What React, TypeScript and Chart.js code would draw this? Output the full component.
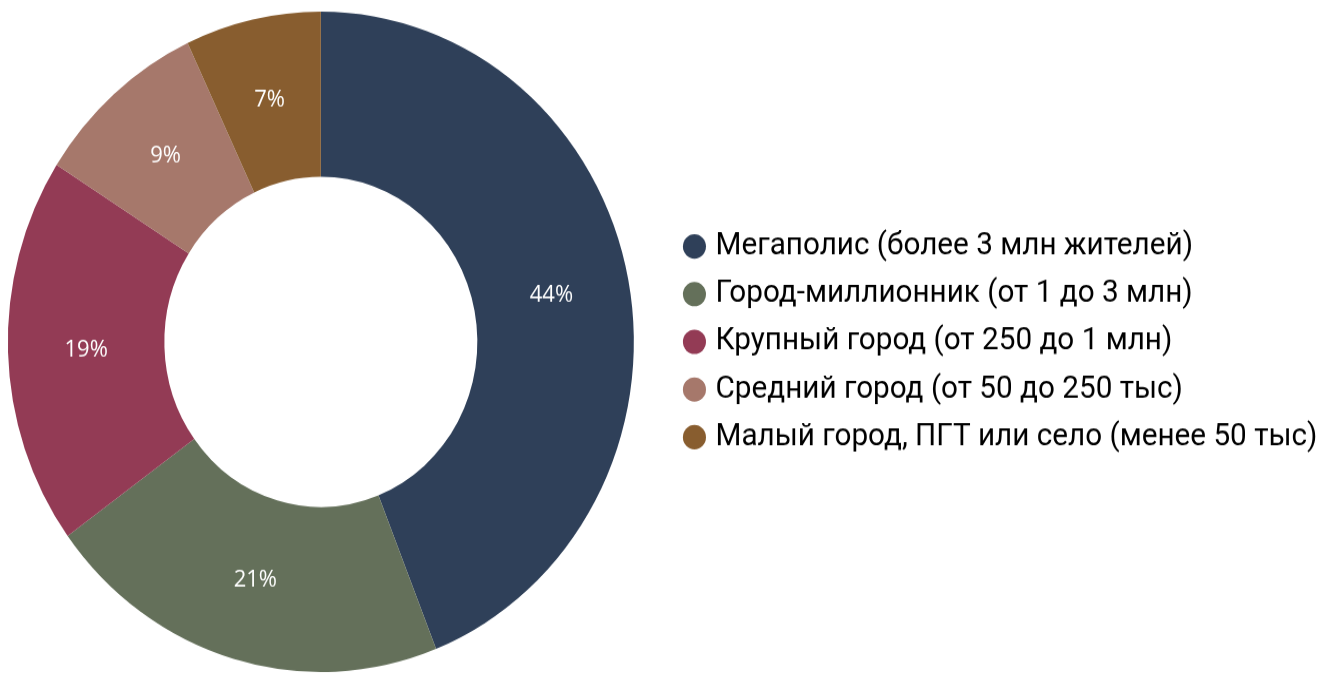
import React, { useEffect, useRef } from "react";
import { Chart, registerables } from "chart.js";

Chart.register(...registerables);

const categories: string[] = [
  "Мегаполис (более 3 млн жителей)",
  "Город-миллионник (от 1 до 3 млн)",
  "Крупный город (от 250 до 1 млн)",
  "Средний город (от 50 до 250 тыс)",
  "Малый город, ПГТ или село (менее 50 тыс)",
];
const values: number[] = [44, 21, 19, 9, 7];
const valueLabels: string[] = ["44%", "21%", "19%", "9%", "7%"];
const colors: string[] = ["#2F4059", "#64705A", "#933B55", "#A6786B", "#885D2F"];

const SY = 1.055;
const SHIFT = -30.65;
const CW = 1365;
const H = Math.round(675 / SY);
const FONT_SIZE = 29.7;
const LEG_PAD = 15.5;
const BOX_W = 12.5;
const LEGEND_LEFT = 703.7;

export default function App() {
  const ref = useRef<HTMLCanvasElement | null>(null);

  useEffect(() => {
    if (!ref.current) return;
    const mctx = document.createElement("canvas").getContext("2d") as CanvasRenderingContext2D;
    mctx.font = `normal ${FONT_SIZE}px Roboto`;
    const maxTW = Math.max(...categories.map((c) => mctx.measureText(c).width));
    const legendW = LEG_PAD + BOX_W + FONT_SIZE / 2 + maxTW + 10;
    const padR = Math.max(0, CW - LEGEND_LEFT - legendW);

    const pctPlugin = {
      id: "pctLabels",
      afterDatasetsDraw(chart: any) {
        const ctx = chart.ctx as CanvasRenderingContext2D;
        const meta = chart.getDatasetMeta(0);
        ctx.save();
        ctx.fillStyle = "#ffffff";
        ctx.font = "22px 'Open Sans'";
        ctx.textAlign = "center";
        ctx.textBaseline = "middle";
        meta.data.forEach((arc: any, i: number) => {
          const p = arc.getCenterPoint();
          ctx.fillText(valueLabels[i], p.x, p.y);
        });
        ctx.restore();
      },
    };

    const chart = new Chart(ref.current, {
      type: "doughnut",
      data: {
        labels: categories,
        datasets: [
          {
            data: values,
            backgroundColor: colors,
            borderWidth: 0,
            hoverBorderWidth: 0,
            hoverOffset: 0,
            offset: 0,
          },
        ],
      },
      options: {
        responsive: false,
        maintainAspectRatio: false,
        animation: false,
        devicePixelRatio: 1,
        cutout: "50%",
        events: [],
        layout: { padding: { left: 0, right: padR, top: 11, bottom: 3 } },
        plugins: {
          legend: {
            position: "right",
            labels: {
              usePointStyle: true,
              pointStyle: "circle",
              boxWidth: BOX_W,
              boxHeight: 16.3,
              padding: LEG_PAD,
              color: "#000000",
              font: { family: "Roboto", size: FONT_SIZE },
            },
          },
          tooltip: { enabled: false },
        },
      } as any,
      plugins: [pctPlugin],
    });
    return () => chart.destroy();
  }, []);

  return (
    <div
      style={{
        position: "absolute",
        left: SHIFT,
        top: 0,
        width: CW,
        height: H,
        transform: `scaleY(${SY})`,
        transformOrigin: "0 0",
      }}
    >
      <canvas ref={ref} width={CW} height={H} style={{ display: "block" }} />
    </div>
  );
}
